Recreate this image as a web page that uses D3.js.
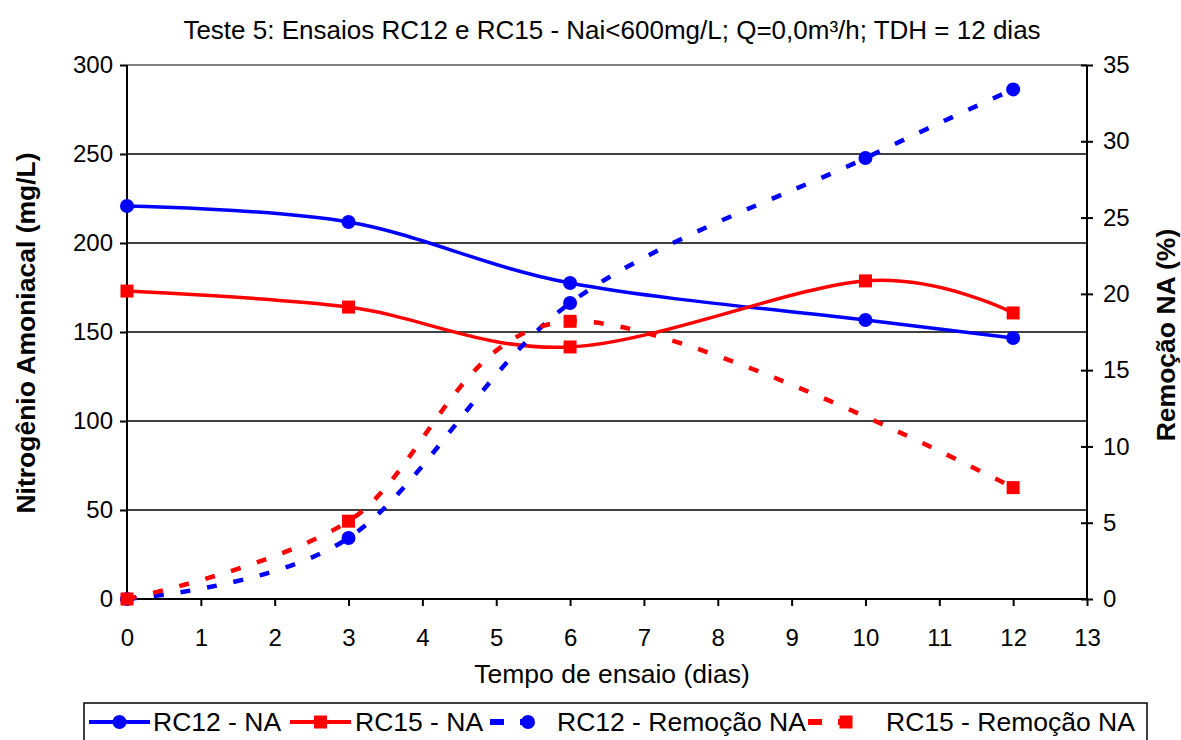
<!DOCTYPE html>
<html>
<head>
<meta charset="utf-8">
<script src="https://cdn.jsdelivr.net/npm/d3@7"></script>
<style>
  body { margin: 0; background: #fff; }
  svg { display: block; font-family: "Liberation Sans", Arial, sans-serif; }
</style>
</head>
<body>
<svg id="chart" width="1181" height="740"></svg>
<script>
// Ammonia nitrogen (mg/L) and removal (%) over test time (days)
const days = [0, 3, 6, 10, 12];
const rc12NA = [220.8, 211.8, 177.5, 156.7, 146.6];
const rc15NA = [173.0, 164.0, 141.6, 178.7, 160.7];
const rc12RemDays = [0, 3, 6, 10, 12];
const rc12Rem = [0, 4.0, 19.4, 28.9, 33.4];
const rc15RemDays = [0, 3, 6, 12];
const rc15Rem = [0, 5.1, 18.2, 7.3];

const xTicks = d3.range(0, 14);
const leftTicks = [0, 50, 100, 150, 200, 250, 300];
const rightTicks = [0, 5, 10, 15, 20, 25, 30, 35];

const titleText = "Teste 5: Ensaios RC12 e RC15 - Nai<600mg/L; Q=0,0m³/h; TDH = 12 dias";
const xTitle = "Tempo de ensaio (dias)";
const yLeftTitle = "Nitrogênio Amoniacal (mg/L)";
const yRightTitle = "Remoção NA (%)";
const legendLabels = ["RC12 - NA", "RC15 - NA", "RC12 - Remoção NA", "RC15 - Remoção NA"];

const svg = d3.select("#chart");
const m = { left: 127, right: 1087, top: 65, bottom: 599 };

const x = d3.scaleLinear().domain([0, 13]).range([m.left, m.right]);
const yL = d3.scaleLinear().domain([0, 300]).range([m.bottom, m.top]);
const yR = d3.scaleLinear().domain([0, 35]).range([m.bottom, m.top]);

const tickFs = 24, labelFs = 26.5;

// Title
svg.append("text").attr("x", 612).attr("y", 39).attr("text-anchor", "middle")
  .attr("font-size", 26).text(titleText);

// Horizontal gridlines
svg.append("g").selectAll("line").data(leftTicks.filter(d => d > 0 && d < 300)).join("line")
  .attr("x1", m.left).attr("x2", m.right)
  .attr("y1", d => yL(d)).attr("y2", d => yL(d))
  .attr("stroke", "#000").attr("stroke-width", 1.5);
svg.append("line").attr("x1", m.left).attr("x2", m.right)
  .attr("y1", yL(300)).attr("y2", yL(300))
  .attr("stroke", "#808080").attr("stroke-width", 2);

// Axes
const gx = svg.append("g").attr("transform", `translate(0,${m.bottom})`)
  .call(d3.axisBottom(x).tickValues(xTicks).tickFormat(d3.format("d")).tickSize(7).tickPadding(23));
const gl = svg.append("g").attr("transform", `translate(${m.left},0)`)
  .call(d3.axisLeft(yL).tickValues(leftTicks).tickSize(7).tickPadding(7));
const gr = svg.append("g").attr("transform", `translate(${m.right},0)`)
  .call(d3.axisRight(yR).tickValues(rightTicks).tickSize(6).tickPadding(10));
gr.selectAll(".tick line").attr("x1", -6);
[gx, gl, gr].forEach(g => {
  g.select(".domain").attr("stroke", "#000").attr("stroke-width", 2);
  g.selectAll(".tick line").attr("stroke", "#000").attr("stroke-width", 2);
  g.selectAll(".tick text").attr("font-size", tickFs).attr("fill", "#000")
    .attr("font-family", "Liberation Sans, Arial, sans-serif");
});
gx.select(".domain").attr("d", `M${m.left},0H${m.right}`);
gl.select(".domain").attr("d", `M0,${m.bottom}V${m.top}`);
gr.select(".domain").attr("d", `M0,${m.bottom}V${m.top}`);

// Axis titles
svg.append("text").attr("x", 612).attr("y", 683).attr("text-anchor", "middle")
  .attr("font-size", labelFs).text(xTitle);
svg.append("text").attr("transform", `translate(35,333) rotate(-90)`)
  .attr("text-anchor", "middle").attr("font-size", labelFs).attr("font-weight", "bold").text(yLeftTitle);
svg.append("text").attr("transform", `translate(1175,335) rotate(-90)`)
  .attr("text-anchor", "middle").attr("font-size", labelFs).attr("font-weight", "bold").text(yRightTitle);

// Series (smoothed lines)
const curve = d3.curveCardinal.tension(0);
const series = [
  { xs: days, ys: rc12NA, scale: yL, color: "#0000ff", marker: "circle", dash: null },
  { xs: days, ys: rc15NA, scale: yL, color: "#ff0000", marker: "square", dash: null },
  { xs: rc12RemDays, ys: rc12Rem, scale: yR, color: "#0000ff", marker: "circle", dash: "10,17" },
  { xs: rc15RemDays, ys: rc15Rem, scale: yR, color: "#ff0000", marker: "square", dash: "10,17" }
];

function drawMarker(g, type, cx, cy, color) {
  if (type === "circle") {
    g.append("circle").attr("cx", cx).attr("cy", cy).attr("r", 7).attr("fill", color);
  } else {
    g.append("rect").attr("x", cx - 6.5).attr("y", cy - 6.5).attr("width", 13).attr("height", 13).attr("fill", color);
  }
}

series.forEach(s => {
  const pts = s.xs.map((d, i) => [x(d), s.scale(s.ys[i])]);
  const path = svg.append("path").attr("d", d3.line().curve(curve)(pts))
    .attr("fill", "none").attr("stroke", s.color)
    .attr("stroke-width", s.dash ? 4.5 : 3.5).attr("stroke-linejoin", "round");
  if (s.dash) path.attr("stroke-dasharray", s.dash);
  const g = svg.append("g");
  pts.forEach(p => drawMarker(g, s.marker, p[0], p[1], s.color));
});

// Legend
const lg = svg.append("g");
lg.append("rect").attr("x", 84).attr("y", 703).attr("width", 1063).attr("height", 45)
  .attr("fill", "#fff").attr("stroke", "#000").attr("stroke-width", 1.5);
const items = [
  { x0: 89, x1: 150, tx: 153, s: series[0] },
  { x0: 290, x1: 351, tx: 355, s: series[1] },
  { x0: 490, x1: 548, tx: 557, s: series[2] },
  { x0: 808, x1: 866, tx: 886, s: series[3] }
];
items.forEach((it, i) => {
  const cy = 722;
  const l = lg.append("line").attr("x1", it.x0).attr("x2", it.x1).attr("y1", cy).attr("y2", cy)
    .attr("stroke", it.s.color).attr("stroke-width", it.s.dash ? 6 : 4);
  if (it.s.dash) l.attr("stroke-dasharray", "14,16");
  drawMarker(lg, it.s.marker, (it.x0 + it.x1) / 2 + (it.s.dash ? 9 : 0), cy, it.s.color);
  lg.append("text").attr("x", it.tx).attr("y", cy + 9).attr("font-size", labelFs).text(legendLabels[i]);
});
</script>
</body>
</html>
